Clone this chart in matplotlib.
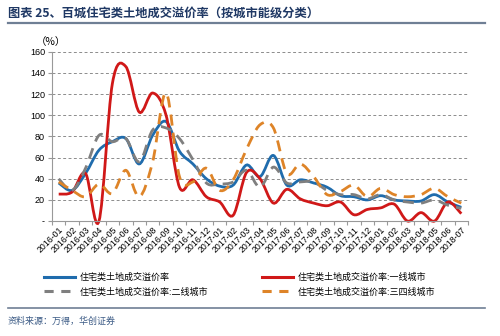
import matplotlib
matplotlib.use("Agg")
import matplotlib.pyplot as plt
from matplotlib.path import Path
from matplotlib.patches import PathPatch
from matplotlib.lines import Line2D
import numpy as np

plt.rcParams['font.family'] = ['Noto Sans CJK SC', 'DejaVu Sans']

months = ["2016-01", "2016-02", "2016-03", "2016-04", "2016-05", "2016-06", "2016-07",
          "2016-08", "2016-09", "2016-10", "2016-11", "2016-12", "2017-01", "2017-02",
          "2017-03", "2017-04", "2017-05", "2017-06", "2017-07", "2017-08", "2017-09",
          "2017-10", "2017-11", "2017-12", "2018-01", "2018-02", "2018-03", "2018-04",
          "2018-05", "2018-06", "2018-07"]

total = [36, 29, 45, 67, 75, 78, 54, 81, 94, 66, 54, 40, 33, 34, 53, 42,
         62, 34, 39, 36, 32, 24, 23, 20, 24, 20, 19, 19, 25, 18, 13]
tier1 = [25.5, 27.5, 45, 0, 130, 146, 103, 121, 100, 32, 39, 23, 18, 5.5, 46, 40,
         17, 30, 21, 17, 14.5, 18, 6, 11, 12.5, 16, 0, 8, 0, 18, 7]
tier2 = [40, 29, 50, 81, 75, 78, 56, 86, 88, 78, 58, 36, 35, 37, 48, 32,
         51, 36, 37, 37, 29, 25, 25, 21, 25, 20, 18, 17, 20, 15, 12]
tier34 = [37, 29, 23, 35, 26, 48, 23, 56, 121, 42, 37, 50, 29, 39, 68, 91,
          88, 45, 54, 42, 25, 28, 34, 23, 31, 25, 23, 25, 31, 23, 17]

names = ["住宅类土地成交溢价率", "住宅类土地成交溢价率:一线城市",
         "住宅类土地成交溢价率:二线城市", "住宅类土地成交溢价率:三四线城市"]
colors = ["#1f6cad", "#d01818", "#7f7f7f", "#de8428"]


def smooth_path(xs, ys):
    # Bezier curve through the points, like a "smoothed line" in a spreadsheet
    pts = np.column_stack([np.asarray(xs, float), np.asarray(ys, float)])
    verts = [pts[0]]
    codes = [Path.MOVETO]
    n = len(pts)
    for i in range(n - 1):
        p0 = pts[max(i - 1, 0)]
        p1 = pts[i]
        p2 = pts[i + 1]
        p3 = pts[min(i + 2, n - 1)]
        verts += [p1 + (p2 - p0) / 6.0, p2 - (p3 - p1) / 6.0, p2]
        codes += [Path.CURVE4] * 3
    return Path(verts, codes)


fig = plt.figure(figsize=(5, 3.36), dpi=100)
ax = fig.add_axes([0.104, 0.342, 0.832, 0.504])

x = np.arange(len(months))
series = [total, tier1, tier2, tier34]
dashes = [None, None, (4, 2.6), (4, 2.6)]
for vals, c, d in zip(series, colors, dashes):
    patch = PathPatch(smooth_path(x, vals), facecolor="none", edgecolor=c,
                      lw=2.0, clip_on=False, capstyle="butt")
    if d is not None:
        patch.set_linestyle((0, d))
    ax.add_patch(patch)

ax.set_xlim(-0.5, len(months) - 0.5)
ax.set_ylim(0, 160)
ax.set_yticks(np.arange(0, 161, 20))
ax.set_yticklabels(["-"] + [str(v) for v in range(20, 161, 20)], fontsize=6.5,
                   family=["Liberation Sans", "DejaVu Sans"])
ax.yaxis.grid(True, ls=(0, (3, 2.5)), color="#8c8c8c", lw=0.7)
ax.set_axisbelow(True)

ax.set_xticks(x)
ax.set_xticklabels(months, rotation=45, ha="right", rotation_mode="anchor",
                   fontsize=6.3, family=["Liberation Sans", "DejaVu Sans"])
ax.tick_params(axis="x", length=0, pad=3)
ax.set_xticks(np.arange(-0.5, len(months)), minor=True)
ax.tick_params(axis="x", which="minor", length=3, color="#999999", width=0.8)
ax.tick_params(axis="y", length=3, color="#999999", width=0.8, pad=2)

for s in ["top", "right"]:
    ax.spines[s].set_visible(False)
for s in ["left", "bottom"]:
    ax.spines[s].set_color("#999999")
    ax.spines[s].set_linewidth(0.8)

ax.text(-0.04, 1.055, "（%）", transform=ax.transAxes, fontsize=7.5, ha="left", va="center")

# title and rules
fig.text(0.016, 0.958, "图表 25、百城住宅类土地成交溢价率（按城市能级分类）",
         fontsize=8.8, fontweight="bold", color="#1f3864", va="center")
fig.add_artist(Line2D([0.016, 0.97], [0.933, 0.933], color="#6f7f95", lw=1.6))
fig.add_artist(Line2D([0.016, 0.97], [0.083, 0.083], color="#6f7f95", lw=1.2))
fig.text(0.016, 0.045, "资料来源：万得，华创证券", fontsize=6.5, style="italic",
         color="#3b5a85", va="center")

handles = [Line2D([], [], color=colors[0], lw=2.2),
           Line2D([], [], color=colors[2], lw=2.2, ls=(0, (3, 2.5))),
           Line2D([], [], color=colors[1], lw=2.2),
           Line2D([], [], color=colors[3], lw=2.2, ls=(0, (3, 2.5)))]
labels = [names[0], names[2], names[1], names[3]]
fig.legend(handles, labels, ncol=2, loc="center left", bbox_to_anchor=(0.072, 0.153),
           frameon=False, fontsize=6.5, handlelength=3.4, handletextpad=0.5,
           columnspacing=6.0, labelspacing=0.6)

fig.savefig("out.png", dpi=100)
